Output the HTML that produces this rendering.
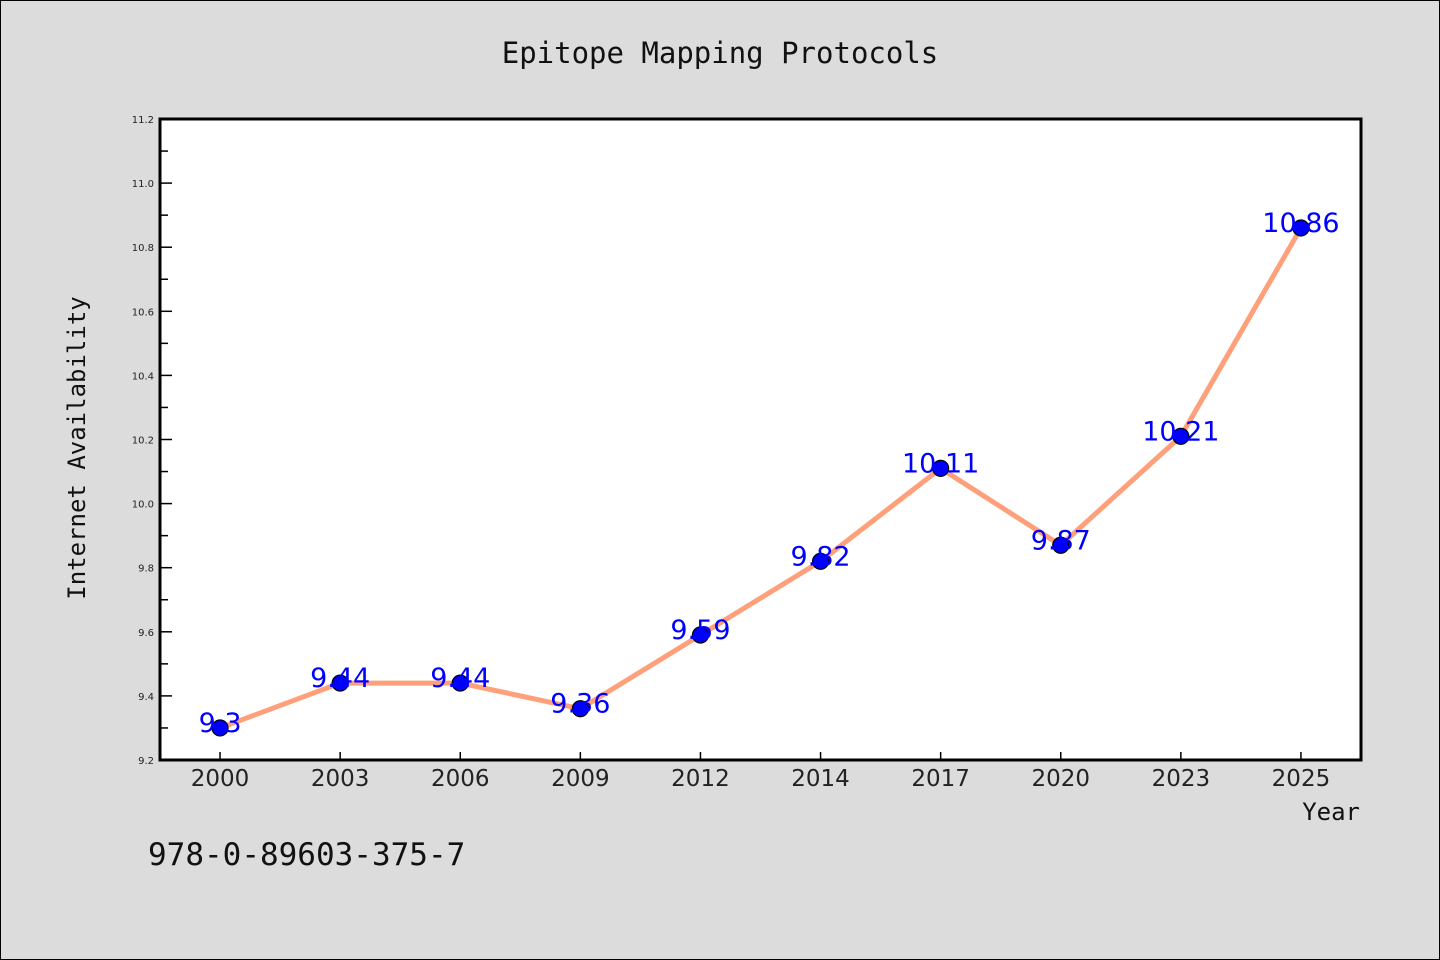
<!DOCTYPE html>
<html><head><meta charset="utf-8"><style>
body{margin:0;background:#dcdcdc;}
svg{display:block;}
</style></head><body>
<svg width="1440" height="960" xmlns="http://www.w3.org/2000/svg">
<rect x="0.5" y="0.5" width="1439" height="959" fill="#dcdcdc" stroke="#000"/>
<text x="720" y="63" text-anchor="middle" font-family="'WenQuanYi Zen Hei','DejaVu Sans Mono',monospace" font-size="29" fill="#111">Epitope Mapping Protocols</text>
<rect x="160" y="119" width="1201" height="641" fill="#fff"/>
<g id="axes"></g>
<g id="marks"></g>
<rect x="160" y="119" width="1201" height="641" fill="none" stroke="#000" stroke-width="3"/>
<text transform="translate(85,448) rotate(-90)" text-anchor="middle" font-family="'WenQuanYi Zen Hei','DejaVu Sans Mono',monospace" font-size="24" fill="#111">Internet Availability</text>
<text x="1360" y="820" text-anchor="end" font-family="'WenQuanYi Zen Hei','DejaVu Sans Mono',monospace" font-size="24" fill="#111">Year</text>
<text x="148" y="865" font-family="'WenQuanYi Zen Hei','DejaVu Sans Mono',monospace" font-size="31" fill="#111">978-0-89603-375-7</text>
</svg>
<script>
const categories=["2000","2003","2006","2009","2012","2014","2017","2020","2023","2025"];
const values=[9.3,9.44,9.44,9.36,9.59,9.82,10.11,9.87,10.21,10.86];
const valueLabels=["9.3","9.44","9.44","9.36","9.59","9.82","10.11","9.87","10.21","10.86"];
const yTicks=[9.2,9.4,9.6,9.8,10.0,10.2,10.4,10.6,10.8,11.0,11.2];
const yMin=9.2,yMax=11.2;
const L=160,R=1361,T=119,B=760;
const NS="http://www.w3.org/2000/svg";
function x(i){return L+(R-L)/categories.length*(i+0.5);}
function y(v){return B-(v-yMin)/(yMax-yMin)*(B-T);}
function mk(tag,attrs,parent){const e=document.createElementNS(NS,tag);for(const k in attrs)e.setAttribute(k,attrs[k]);parent.appendChild(e);return e;}
const axes=document.getElementById('axes'),marks=document.getElementById('marks');
yTicks.forEach((t,i)=>{
  const ln=mk('line',{x1:L,x2:L+12,y1:y(t),y2:y(t),stroke:'#000','stroke-width':1.5},axes);
  
  
  const tx=mk('text',{x:L-6,y:y(t)+4,'text-anchor':'end','font-family':'DejaVu Sans,sans-serif','font-size':10,fill:'#222'},axes);
  tx.textContent=t.toFixed(1);
  
  
  if(i<yTicks.length-1){
    const m=(t+yTicks[i+1])/2;
    const mn=mk('line',{x1:L,x2:L+8,y1:y(m),y2:y(m),stroke:'#000','stroke-width':1.5},axes);
    
    
  }
});
categories.forEach((c,i)=>{
  const ln=mk('line',{x1:x(i),x2:x(i),y1:B,y2:B-8,stroke:'#000','stroke-width':1.5},axes);
  
  
  const tx=mk('text',{x:x(i),y:B+26,'text-anchor':'middle','font-family':'DejaVu Sans,sans-serif','font-size':23,fill:'#222'},axes);
  tx.textContent=c;
  
  
});
const pts=values.map((v,i)=>x(i)+','+y(v)).join(' ');
const pl=mk('polyline',{points:pts,fill:'none',stroke:'#ffa07a','stroke-width':5,'stroke-linejoin':'round'},marks);


values.forEach((v,i)=>{
  const c=mk('circle',{cx:x(i),cy:y(v),r:8,fill:'#0000ff',stroke:'#000','stroke-width':1.2},marks);
  
  
});
values.forEach((v,i)=>{
  const t=mk('text',{x:x(i),y:y(v)+4,'text-anchor':'middle','font-family':'DejaVu Sans,sans-serif','font-size':27,fill:'#0000ff'},marks);
  t.textContent=valueLabels[i];
  
  
});
</script>
</body></html>
